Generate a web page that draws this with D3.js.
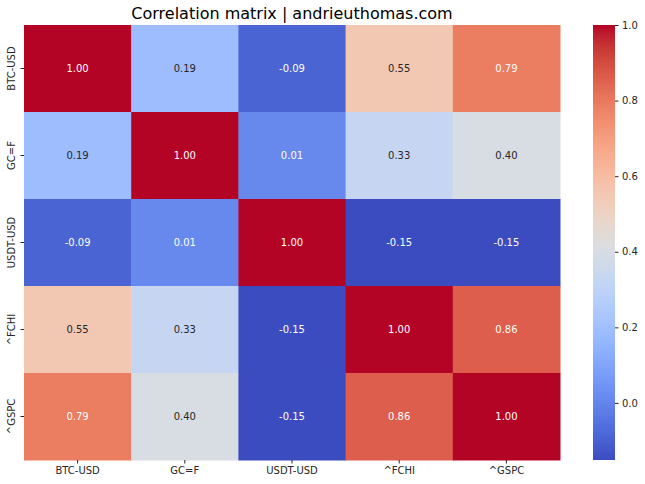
<!DOCTYPE html>
<html>
<head>
<meta charset="utf-8">
<script src="https://cdn.jsdelivr.net/npm/d3@7"></script>
<style>
  body { margin: 0; background: #fff; }
  text { font-family: "DejaVu Sans", sans-serif; }
</style>
</head>
<body>
<div id="chart"></div>
<script>
// chart data
var tickers = ['BTC-USD', 'GC=F', 'USDT-USD', '^FCHI', '^GSPC']
var corr = [
  [1.00, 0.19, -0.09, 0.55, 0.79],
  [0.19, 1.00, 0.01, 0.33, 0.40],
  [-0.09, 0.01, 1.00, -0.15, -0.15],
  [0.55, 0.33, -0.15, 1.00, 0.86],
  [0.79, 0.40, -0.15, 0.86, 1.00]
]
var colorbarTicks = [0.0, 0.2, 0.4, 0.6, 0.8, 1.0]
var vmin = -0.151, vmax = 1.0

// coolwarm (Moreland) control points
var coolwarm = [
  [59, 76, 192], [68, 90, 204], [77, 104, 215], [87, 117, 225], [98, 130, 234],
  [108, 142, 241], [119, 154, 247], [130, 165, 251], [141, 176, 254], [152, 185, 255],
  [163, 194, 255], [174, 201, 253], [184, 208, 249], [194, 213, 244], [204, 217, 238],
  [213, 219, 230], [221, 221, 221], [229, 216, 209], [236, 211, 197], [241, 204, 185],
  [245, 196, 173], [247, 187, 160], [247, 177, 148], [247, 166, 135], [244, 154, 123],
  [241, 141, 111], [236, 127, 99], [229, 112, 88], [222, 96, 77], [213, 80, 66],
  [203, 62, 56], [192, 40, 47], [180, 4, 38]
]

var width = 645, height = 484
var hmLeft = 24, hmRight = 560, hmTop = 25, hmBottom = 460

var svg = d3.select('#chart').append('svg')
  .attr('width', width)
  .attr('height', height)

var interp = d3.piecewise(d3.interpolateRgb, coolwarm.map(function (c) { return d3.rgb(c[0], c[1], c[2]) }))
var color = d3.scaleSequential(interp).domain([vmin, vmax]).clamp(true)

var x = d3.scaleBand().domain(tickers).range([hmLeft, hmRight])
var y = d3.scaleBand().domain(tickers).range([hmTop, hmBottom])

// luminance rule like seaborn for annotation colour
function lum(c) {
  var rgb = d3.rgb(c)
  var ch = [rgb.r, rgb.g, rgb.b].map(function (v) {
    v = v / 255
    return v <= 0.03928 ? v / 12.92 : Math.pow((v + 0.055) / 1.055, 2.4)
  })
  return 0.2126 * ch[0] + 0.7152 * ch[1] + 0.0722 * ch[2]
}

var cells = []
corr.forEach(function (row, i) {
  row.forEach(function (v, j) {
    cells.push({ row: tickers[i], col: tickers[j], value: v })
  })
})

svg.append('g').selectAll('rect')
  .data(cells)
  .enter()
  .append('rect')
  .attr('x', function (d) { return x(d.col) })
  .attr('y', function (d) { return y(d.row) })
  .attr('width', x.bandwidth() + 0.5)
  .attr('height', y.bandwidth() + 0.5)
  .style('fill', function (d) { return color(d.value) })

svg.append('g').selectAll('text')
  .data(cells)
  .enter()
  .append('text')
  .attr('x', function (d) { return x(d.col) + x.bandwidth() / 2 })
  .attr('y', function (d) { return y(d.row) + y.bandwidth() / 2 })
  .attr('text-anchor', 'middle')
  .attr('dominant-baseline', 'central')
  .style('font-size', '10px')
  .style('fill', function (d) { return lum(color(d.value)) > 0.408 ? '#262626' : '#ffffff' })
  .text(function (d) { return d.value.toFixed(2) })

// axes
var xAxis = svg.append('g')
  .attr('transform', `translate(0,${hmBottom})`)
  .call(d3.axisBottom(x).tickSize(3.5).tickPadding(3.5))
xAxis.select('.domain').remove()
xAxis.selectAll('text').style('font-size', '10px').style('fill', '#262626').style('font-family', 'DejaVu Sans')
xAxis.selectAll('line').style('stroke', '#262626')

var yAxis = svg.append('g')
  .attr('transform', `translate(${hmLeft},0)`)
  .call(d3.axisLeft(y).tickSize(3.5).tickPadding(3.5))
yAxis.select('.domain').remove()
yAxis.selectAll('line').style('stroke', '#262626')
yAxis.selectAll('text')
  .style('font-size', '10px')
  .style('fill', '#262626')
  .style('font-family', 'DejaVu Sans')
  .attr('text-anchor', 'middle')
  .attr('dy', null)
  .attr('x', 0)
  .attr('y', 0)
  .attr('transform', 'translate(-9.5,0) rotate(-90)')

// colorbar
var cbLeft = 593, cbRight = 615
var cbScale = d3.scaleLinear().domain([vmin, vmax]).range([hmBottom, hmTop])
var defs = svg.append('defs')
var grad = defs.append('linearGradient')
  .attr('id', 'cbgrad')
  .attr('x1', 0).attr('y1', 1).attr('x2', 0).attr('y2', 0)
d3.range(0, 1.0001, 0.02).forEach(function (t) {
  grad.append('stop')
    .attr('offset', t)
    .attr('stop-color', color(vmin + t * (vmax - vmin)))
})
svg.append('rect')
  .attr('x', cbLeft)
  .attr('y', hmTop)
  .attr('width', cbRight - cbLeft)
  .attr('height', hmBottom - hmTop)
  .style('fill', 'url(#cbgrad)')

var cbAxis = svg.append('g')
  .attr('transform', `translate(${cbRight},0)`)
  .call(d3.axisRight(cbScale).tickValues(colorbarTicks).tickFormat(d3.format('.1f')).tickSize(3.5).tickPadding(3.5))
cbAxis.select('.domain').remove()
cbAxis.selectAll('text').style('font-size', '10px').style('fill', '#262626').style('font-family', 'DejaVu Sans')
cbAxis.selectAll('line').style('stroke', '#262626')

// title
svg.append('text')
  .attr('x', (hmLeft + hmRight) / 2)
  .attr('y', 19)
  .attr('text-anchor', 'middle')
  .style('font-size', '16px')
  .style('fill', '#000')
  .text('Correlation matrix | andrieuthomas.com')
</script>
</body>
</html>
